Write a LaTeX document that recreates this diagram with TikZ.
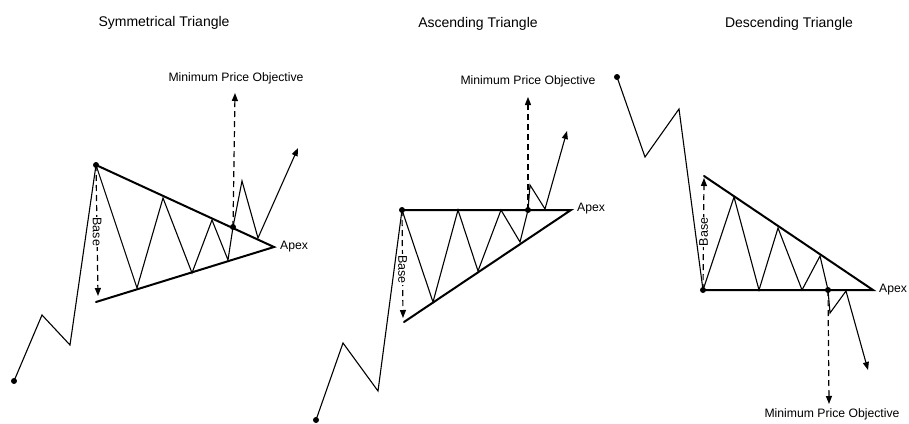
\documentclass[tikz,border=0pt]{standalone}
\usepackage{fontspec}
\setmainfont{Liberation Sans}
\usetikzlibrary{
    arrows.meta,
    calc
}

\tikzset{
    trendline/.style={line width=2pt, line cap=round},
    price/.style={line width=1.1pt, -{Triangle[length=8pt,width=6pt]}},
    target/.style={line width=1.2pt, dash pattern=on 6pt off 4pt, -{Triangle[length=8pt,width=6pt]}},
    title/.style={font=\fontsize{14}{16}\selectfont},
    note/.style={font=\fontsize{12.2}{14}\selectfont},
    apexlabel/.style={font=\fontsize{12.2}{14}\selectfont, anchor=west, inner sep=0pt},
    baselabel/.style={font=\fontsize{12.5}{14}\selectfont, fill=white, inner sep=1pt}
}

\begin{document}
\begin{tikzpicture}[x=1pt, y=-1pt]

\useasboundingbox (0,0) rectangle (909,423);

% Symmetrical triangle
\node[title] (symtitle) at (164,23) {Symmetrical Triangle};
\coordinate (sstart) at (14,381);
\coordinate (sz1) at (42,315);
\coordinate (sz2) at (70,345);
\coordinate (stop) at (96,165);
\coordinate (sbot) at (96,302);
\coordinate (sapex) at (274,247);
\coordinate (sbasetip) at (98,296);
\coordinate (sbreak) at (233,227);
\coordinate (starget) at (235,93);
\node[note] (snote) at (236,78) {Minimum Price Objective};
\node[apexlabel] (sapexlab) at ($(sapex)+(6,0)$) {Apex};

\draw[target] (sbreak) -- (starget);
\draw[target] (stop) -- node[baselabel, rotate=-90, pos=0.51] {Base} (sbasetip);
\draw[price] (sstart) -- (sz1) -- (sz2) -- (stop) -- (137,288) -- (163,198)
    -- (192,273) -- (212,220) -- (228,260) -- (sbreak) -- (242,181)
    -- (258,238) -- (298,148);
\draw[trendline] (stop) -- (sapex) -- (sbot);
\fill (sstart) circle (3pt) (stop) circle (3pt) (sbreak) circle (3pt);

% Ascending triangle
\node[title] (asctitle) at (478,24) {Ascending Triangle};
\coordinate (astart) at (316,420);
\coordinate (az1) at (343,343);
\coordinate (az2) at (378,391);
\coordinate (atop) at (402,210);
\coordinate (abot) at (404,322);
\coordinate (aapex) at (571,210);
\coordinate (abasetip) at (403,318);
\coordinate (abreak) at (528,210);
\coordinate (atarget) at (528,97);
\node[note] (anote) at (528,81) {Minimum Price Objective};
\node[apexlabel] (aapexlab) at ($(aapex)+(6,-1)$) {Apex};

\draw[target] (abreak) -- (atarget);
\draw[target] (atop) -- node[baselabel, rotate=-90, pos=0.55] {Base} (abasetip);
\draw[price] (astart) -- (az1) -- (az2) -- (atop) -- (433,302) -- (458,210)
    -- (478,271) -- (501,210) -- (520,242) -- (abreak) -- (530,185)
    -- (545,209) -- (567,131);
\draw[trendline] (atop) -- (aapex) -- (abot);
\fill (astart) circle (3pt) (atop) circle (3pt) (abreak) circle (3pt);

% Descending triangle
\node[title] (desctitle) at (789,24) {Descending Triangle};
\coordinate (dstart) at (617,77);
\coordinate (dz1) at (645,157);
\coordinate (dz2) at (679,109);
\coordinate (dbot) at (703,290);
\coordinate (dtop) at (704,176);
\coordinate (dapex) at (873,290);
\coordinate (dbasetip) at (704,178);
\coordinate (dbreak) at (828,290);
\coordinate (dtarget) at (829,404);
\node[note] (dnote) at (832,414) {Minimum Price Objective};
\node[apexlabel] (dapexlab) at ($(dapex)+(6,0)$) {Apex};

\draw[target] (dbreak) -- (dtarget);
\draw[target] (dbot) -- node[baselabel, rotate=90, pos=0.52] {Base} (dbasetip);
\draw[price] (dstart) -- (dz1) -- (dz2) -- (dbot) -- (734,197) -- (759,290)
    -- (778,228) -- (802,290) -- (820,256) -- (dbreak) -- (830,313)
    -- (846,291) -- (868,370);
\draw[trendline] (dtop) -- (dapex) -- (dbot);
\fill (dstart) circle (3pt) (dbot) circle (3pt) (dbreak) circle (3pt);

\end{tikzpicture}
\end{document}
